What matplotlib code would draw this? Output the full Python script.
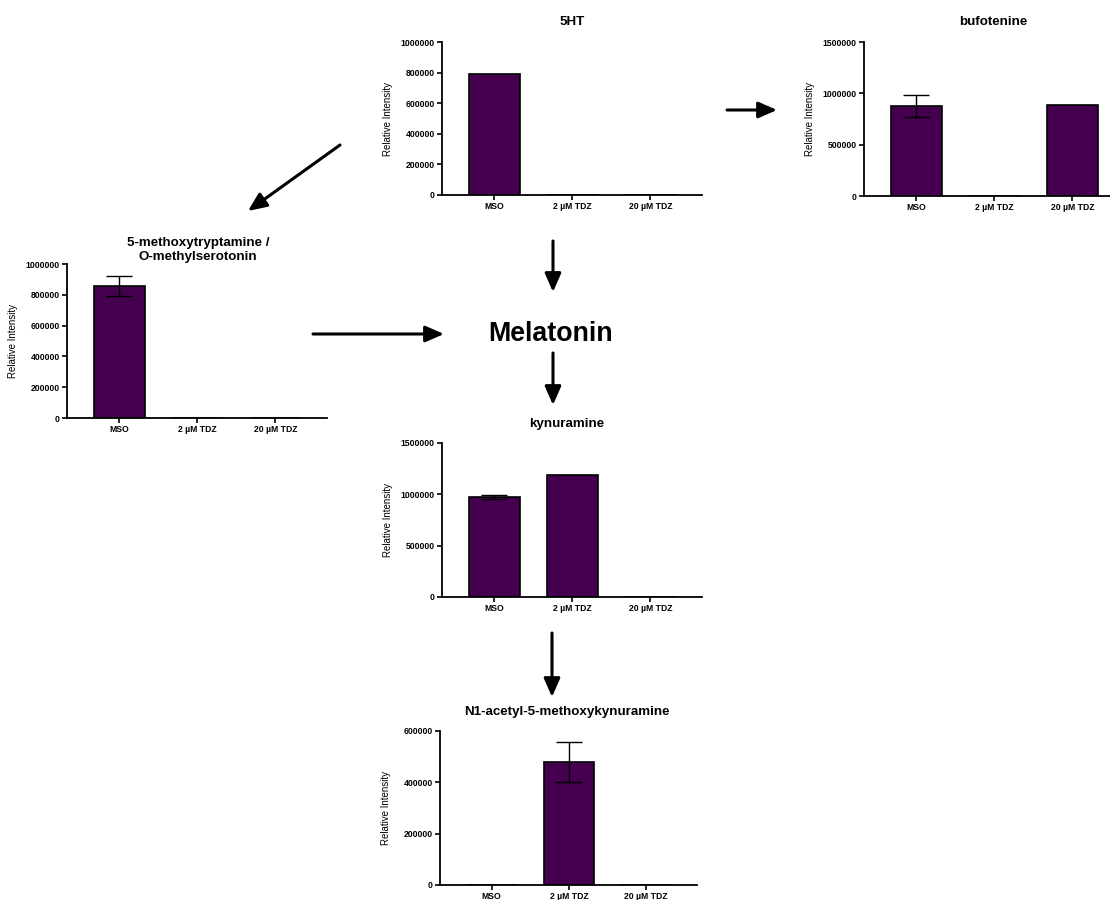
import numpy as np
import matplotlib.pyplot as plt

plt.rcParams['font.family'] = ['Liberation Sans', 'DejaVu Sans']

# Data
categories = ['MSO', '2 µM TDZ', '20 µM TDZ']

ht5_vals = [790000, 0, 0]
ht5_err = [0, 0, 0]

bufo_vals = [877000, 0, 889000]
bufo_err = [103000, 0, 0]

methoxy_vals = [857000, 0, 0]
methoxy_err = [62000, 0, 0]

kyn_vals = [975000, 1192000, 0]
kyn_err = [20000, 0, 0]

amk_vals = [0, 480000, 0]
amk_err = [0, 77000, 0]

BAR_COLOR = '#44004f'
W, H = 1110, 900

fig = plt.figure(figsize=(W / 100, H / 100), dpi=100)


def px_rect(x0, y0, x1, y1):
    # pixel box (top-left origin) -> figure fraction rect
    return [x0 / W, 1 - y1 / H, (x1 - x0) / W, (y1 - y0) / H]


def bar_panel(rect, vals, errs, ymax, yticks, title, title_xy):
    ax = fig.add_axes(px_rect(*rect))
    x = np.arange(len(categories))
    ax.bar(x, vals, width=0.65, color=BAR_COLOR, edgecolor='black',
           linewidth=1.2, zorder=2)
    for xi, v, e in zip(x, vals, errs):
        if e > 0:
            ax.errorbar(xi, v, yerr=e, color='black', elinewidth=1.0,
                        capsize=9.5, capthick=1.0, zorder=3)
    ax.set_xlim(-0.67, 2.66)
    ax.set_ylim(0, ymax)
    ax.set_yticks(yticks)
    ax.set_yticklabels([str(t) for t in yticks])
    ax.set_xticks(x)
    ax.set_xticklabels(categories)
    for s in ['top', 'right']:
        ax.spines[s].set_visible(False)
    for s in ['left', 'bottom']:
        ax.spines[s].set_linewidth(1.3)
    ax.tick_params(axis='both', length=3.8, width=1.2, labelsize=6.2, pad=1.5)
    for lab in ax.get_xticklabels() + ax.get_yticklabels():
        lab.set_fontweight('bold')
    ax.set_ylabel('Relative Intensity', fontsize=7)
    ax.yaxis.set_label_coords(-0.19, 0.5)
    fig.text(title_xy[0] / W, 1 - title_xy[1] / H, title, fontsize=9.6,
             fontweight='bold', ha='center', va='center', linespacing=1.2)
    return ax


bar_panel((442, 42, 702, 195), ht5_vals, ht5_err, 1000000,
          [0, 200000, 400000, 600000, 800000, 1000000], '5HT', (572, 22))
bar_panel((864, 42, 1124, 196), bufo_vals, bufo_err, 1500000,
          [0, 500000, 1000000, 1500000], 'bufotenine', (993, 22))
bar_panel((67, 264, 327, 418), methoxy_vals, methoxy_err, 1000000,
          [0, 200000, 400000, 600000, 800000, 1000000],
          '5-methoxytryptamine /\nO-methylserotonin', (198, 250))
bar_panel((442, 443, 702, 597), kyn_vals, kyn_err, 1500000,
          [0, 500000, 1000000, 1500000], 'kynuramine', (567, 424))
bar_panel((440, 731, 697, 885), amk_vals, amk_err, 600000,
          [0, 200000, 400000, 600000], 'N1-acetyl-5-methoxykynuramine',
          (567, 712))

# overlay in pixel coordinates for the pathway arrows
ov = fig.add_axes([0, 0, 1, 1])
ov.set_xlim(0, W)
ov.set_ylim(H, 0)
ov.axis('off')
ov.patch.set_alpha(0)

arrows = [
    ((340, 145), (248, 211)),
    ((727, 110), (777, 110)),
    ((553, 241), (553, 292)),
    ((313, 334), (444, 334)),
    ((553, 353), (553, 405)),
    ((552, 633), (552, 697)),
]
for start, tip in arrows:
    ov.annotate('', xy=tip, xytext=start,
                arrowprops=dict(arrowstyle='-|>,head_length=0.8,head_width=0.35',
                                mutation_scale=14, lw=2.2, color='black',
                                shrinkA=0, shrinkB=0))

ov.text(551, 334, 'Melatonin', fontsize=19.3, fontweight='bold',
        ha='center', va='center')

fig.savefig('out.png', dpi=100)
